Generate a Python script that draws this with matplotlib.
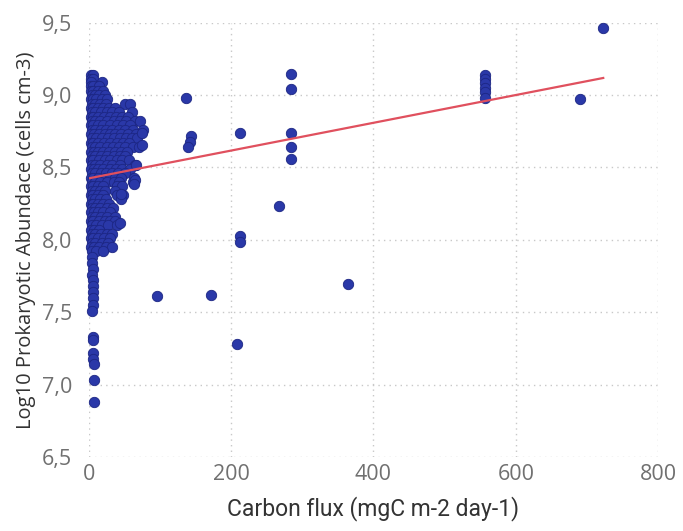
import matplotlib
matplotlib.use("Agg")
import matplotlib.pyplot as plt

# carbon flux (mgC m-2 day-1) vs log10 prokaryotic abundance (cells cm-3)
flux = [
    3, 5, 3, 5, 3, 18, 3, 5, 14, 3, 6, 12, 20, 4, 8, 14, 22,
    3, 5, 10, 18, 26, 4, 9, 15, 24, 50, 57, 3, 6, 12, 20, 28, 36,
    4, 9, 17, 25, 33, 42, 60, 3, 6, 13, 21, 30, 38, 46, 55,
    4, 8, 16, 26, 35, 44, 52, 64, 72, 3, 6, 12, 20, 29, 40, 48, 58,
    4, 9, 17, 24, 33, 42, 50, 62, 76, 3, 7, 14, 22, 30, 37, 45, 55, 66,
    4, 10, 18, 27, 35, 44, 52, 60, 68, 3, 6, 13, 21, 30, 39, 48, 56,
    4, 8, 16, 25, 34, 42, 50, 62, 70, 3, 7, 12, 20, 28, 37, 45, 54,
    4, 9, 17, 26, 35, 43, 50, 3, 6, 14, 22, 30, 40, 47, 56,
    4, 8, 16, 25, 33, 44, 64, 3, 7, 12, 20, 29, 38, 46, 57,
    4, 9, 17, 24, 33, 41, 50, 3, 6, 13, 22, 30, 37, 45, 63,
    4, 8, 16, 26, 35, 42, 62, 3, 6, 12, 20, 40, 46,
    4, 8, 15, 22, 37, 3, 6, 12, 20, 39, 48, 4, 9, 16, 24, 45,
    3, 6, 13, 20, 28, 4, 8, 16, 25, 34, 3, 7, 12, 20, 29,
    4, 9, 17, 26, 36, 3, 6, 14, 22, 30, 37, 4, 10, 18, 27, 39,
    3, 7, 14, 4, 8, 17, 25, 33, 3, 6, 12, 21, 30,
    4, 9, 18, 27, 3, 7, 14, 24, 33, 4, 10, 20,
    4, 4, 5, 4, 5, 5, 5, 6, 5, 4, 6, 5, 6, 6, 7, 7, 7,
    45, 43, 65, 63, 74, 75, 66,
    137, 144, 142, 139, 213, 213, 213, 208, 95, 172, 267, 364,
    284, 284, 284, 284, 284,
    557, 557, 557, 557, 557, 557,
    690, 723,
]
abundance = [
    9.14, 9.14, 9.11, 9.11, 9.09, 9.09, 9.06, 9.06, 9.06, 9.03, 9.03, 9.03, 9.03, 9.00, 9.00, 9.00, 9.00,
    8.97, 8.97, 8.97, 8.97, 8.97, 8.94, 8.94, 8.94, 8.94, 8.94, 8.94, 8.91, 8.91, 8.91, 8.91, 8.91, 8.91,
    8.88, 8.88, 8.88, 8.88, 8.88, 8.88, 8.88, 8.85, 8.85, 8.85, 8.85, 8.85, 8.85, 8.85, 8.85,
    8.82, 8.82, 8.82, 8.82, 8.82, 8.82, 8.82, 8.82, 8.82, 8.79, 8.79, 8.79, 8.79, 8.79, 8.79, 8.79, 8.79,
    8.76, 8.76, 8.76, 8.76, 8.76, 8.76, 8.76, 8.76, 8.76, 8.73, 8.73, 8.73, 8.73, 8.73, 8.73, 8.73, 8.73, 8.73,
    8.70, 8.70, 8.70, 8.70, 8.70, 8.70, 8.70, 8.70, 8.70, 8.67, 8.67, 8.67, 8.67, 8.67, 8.67, 8.67, 8.67,
    8.64, 8.64, 8.64, 8.64, 8.64, 8.64, 8.64, 8.64, 8.64, 8.61, 8.61, 8.61, 8.61, 8.61, 8.61, 8.61, 8.61,
    8.58, 8.58, 8.58, 8.58, 8.58, 8.58, 8.58, 8.55, 8.55, 8.55, 8.55, 8.55, 8.55, 8.55, 8.55,
    8.52, 8.52, 8.52, 8.52, 8.52, 8.52, 8.52, 8.49, 8.49, 8.49, 8.49, 8.49, 8.49, 8.49, 8.49,
    8.46, 8.46, 8.46, 8.46, 8.46, 8.46, 8.46, 8.43, 8.43, 8.43, 8.43, 8.43, 8.43, 8.43, 8.43,
    8.40, 8.40, 8.40, 8.40, 8.40, 8.40, 8.40, 8.37, 8.37, 8.37, 8.37, 8.37, 8.37,
    8.34, 8.34, 8.34, 8.34, 8.34, 8.31, 8.31, 8.31, 8.31, 8.31, 8.31, 8.28, 8.28, 8.28, 8.28, 8.28,
    8.25, 8.25, 8.25, 8.25, 8.25, 8.22, 8.22, 8.22, 8.22, 8.22, 8.19, 8.19, 8.19, 8.19, 8.19,
    8.16, 8.16, 8.16, 8.16, 8.16, 8.13, 8.13, 8.13, 8.13, 8.13, 8.13, 8.10, 8.10, 8.10, 8.10, 8.10,
    8.07, 8.07, 8.07, 8.04, 8.04, 8.04, 8.04, 8.04, 8.01, 8.01, 8.01, 8.01, 8.01,
    7.98, 7.98, 7.98, 7.98, 7.95, 7.95, 7.95, 7.95, 7.95, 7.92, 7.92, 7.92,
    7.88, 7.84, 7.80, 7.76, 7.72, 7.68, 7.64, 7.60, 7.55, 7.51, 7.33, 7.31, 7.22, 7.18, 7.14, 7.03, 6.88,
    8.32, 8.115, 8.414, 8.386, 8.656, 8.737, 8.518,
    8.978, 8.718, 8.679, 8.64, 8.737, 8.023, 7.982, 7.283, 7.614, 7.616, 8.235, 7.697,
    9.146, 9.043, 8.737, 8.64, 8.557,
    9.14, 9.11, 9.08, 9.05, 9.02, 8.98,
    8.973, 9.463,
]

# fitted trend line end points
trend_x = [0, 723]
trend_y = [8.425, 9.118]

x_ticks = [0, 200, 400, 600, 800]
y_ticks = [6.5, 7.0, 7.5, 8.0, 8.5, 9.0, 9.5]
y_tick_labels = ["6,5", "7,0", "7,5", "8,0", "8,5", "9,0", "9,5"]

fig = plt.figure(figsize=(6.83, 5.31), dpi=100)
ax = fig.add_axes([0.1303, 0.1394, 0.8331, 0.8179])

ax.scatter(flux, abundance, s=56, facecolor="#2a38a8", edgecolor="#1c2683",
           linewidth=0.6, zorder=3, clip_on=False)
ax.plot(trend_x, trend_y, color="#e0505e", lw=1.6, zorder=4)

ax.set_xlim(0, 800)
ax.set_ylim(6.5, 9.5)
ax.set_xticks(x_ticks)
ax.set_yticks(y_ticks)
ax.set_yticklabels(y_tick_labels)

for s in ax.spines.values():
    s.set_visible(False)
ax.grid(True, linestyle=(0, (1, 3)), color="#c8c8c8", linewidth=1.0, zorder=0)
ax.tick_params(length=0, labelcolor="#707070", labelsize=15.5)
ax.tick_params(axis="y", pad=12)
ax.tick_params(axis="x", pad=5)
for lab in ax.get_xticklabels() + ax.get_yticklabels():
    lab.set_fontfamily("Open Sans")

ax.set_xlabel("Carbon flux (mgC m-2 day-1)", fontsize=16.5, color="#333333",
              family="Roboto", labelpad=8)
ax.set_ylabel("Log10 Prokaryotic Abundace (cells cm-3)", fontsize=14.5,
              color="#333333", family="Open Sans", labelpad=4)

fig.savefig("out.png", dpi=100)
